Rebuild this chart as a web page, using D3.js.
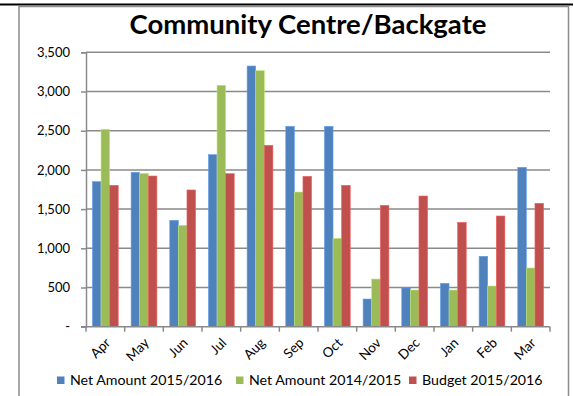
<!DOCTYPE html>
<html>
<head>
<meta charset="utf-8">
<script src="https://cdn.jsdelivr.net/npm/d3@7"></script>
<style>
  body { margin: 0; background: #fff; }
  text { font-family: Lato, "Open Sans", sans-serif; fill: #000; }
</style>
</head>
<body>
<div id="chart"></div>
<script>
// months of the financial year
var months = ["Apr", "May", "Jun", "Jul", "Aug", "Sep", "Oct", "Nov", "Dec", "Jan", "Feb", "Mar"];

// values
var net1516 = [1850, 1969, 1357, 2194, 3325, 2556, 2556, 353, 494, 553, 898, 2033];
var net1415 = [2518, 1956, 1293, 3079, 3265, 1718, 1127, 608, 468, 468, 519, 749];
var budget1516 = [1803, 1922, 1744, 1952, 2314, 1918, 1803, 1548, 1667, 1331, 1412, 1574];

var seriesNames = ["Net Amount 2015/2016", "Net Amount 2014/2015", "Budget 2015/2016"];
var colors = ["#4F81BD", "#9BBB59", "#C0504D"];
var yTicks = [0, 500, 1000, 1500, 2000, 2500, 3000, 3500];

var w = 574, h = 396;
var plot = { left: 86, right: 550, top: 52.3, bottom: 326.7 };

var svg = d3.select("#chart").append("svg")
    .attr("width", w)
    .attr("height", h);

// black rule on top and the grey chart frame
svg.append("line")
    .attr("x1", 0).attr("x2", 573)
    .attr("y1", 4.5).attr("y2", 4.5)
    .attr("stroke", "#000").attr("stroke-width", 2);

svg.append("rect")
    .attr("x", 19).attr("y", 6.5)
    .attr("width", 549.5).attr("height", 400)
    .attr("fill", "none")
    .attr("stroke", "#8c8c8c").attr("stroke-width", 1.5);

svg.append("text")
    .attr("x", 308).attr("y", 34)
    .attr("text-anchor", "middle")
    .style("font-size", "27.5px")
    .style("font-weight", "bold")
    .text("Community Centre/Backgate");

var x0 = d3.scaleBand()
    .domain(months)
    .range([plot.left, plot.right])
    .paddingInner(1.5 / 4.5)
    .paddingOuter(0.75 / 4.5);

var x1 = d3.scaleBand()
    .domain([0, 1, 2])
    .range([0, x0.bandwidth()]);

var y = d3.scaleLinear()
    .domain([0, 3500])
    .range([plot.bottom, plot.top]);

// gridlines
svg.append("g")
    .selectAll("line")
    .data(yTicks.filter(function(d) { return d > 0; }))
    .enter().append("line")
    .attr("x1", plot.left).attr("x2", plot.right)
    .attr("y1", function(d) { return y(d); })
    .attr("y2", function(d) { return y(d); })
    .attr("stroke", "#8a8a8a")
    .attr("stroke-width", 1.5);

// bars
var table = months.map(function(m, i) {
    return { month: m, values: [net1516[i], net1415[i], budget1516[i]] };
});

var group = svg.append("g")
    .selectAll("g")
    .data(table)
    .enter().append("g")
    .attr("transform", function(d) { return "translate(" + x0(d.month) + ",0)"; });

group.selectAll("rect")
    .data(function(d) { return d.values; })
    .enter().append("rect")
    .attr("x", function(d, i) { return x1(i); })
    .attr("width", x1.bandwidth())
    .attr("y", function(d) { return y(d); })
    .attr("height", function(d) { return y(0) - y(d); })
    .attr("fill", function(d, i) { return colors[i]; })
    .attr("stroke", function(d, i) { return d3.color(colors[i]).brighter(0.6); })
    .attr("stroke-width", 0.6);

// y axis
var yAxis = d3.axisLeft(y)
    .tickValues(yTicks)
    .tickSize(5)
    .tickPadding(11)
    .tickFormat(function(d) { return d === 0 ? "-" : d3.format(",")(d); });

var gy = svg.append("g")
    .attr("transform", "translate(" + plot.left + ",0)")
    .call(yAxis);
gy.select(".domain").attr("stroke", "#8a8a8a").attr("stroke-width", 1.5);
gy.selectAll(".tick line").attr("stroke", "#8a8a8a").attr("stroke-width", 1.5);
gy.selectAll(".tick text")
    .style("font-family", "Lato, sans-serif")
    .style("font-size", "13px");

// x axis line and ticks between the months
svg.append("line")
    .attr("x1", plot.left - 5).attr("x2", plot.right)
    .attr("y1", plot.bottom).attr("y2", plot.bottom)
    .attr("stroke", "#8a8a8a").attr("stroke-width", 1.5);

var bounds = months.map(function(m) { return x0(m) - x0.step() * x0.paddingInner() / 2; });
bounds.push(plot.right);
svg.append("g")
    .selectAll("line")
    .data(bounds)
    .enter().append("line")
    .attr("x1", function(d) { return d; })
    .attr("x2", function(d) { return d; })
    .attr("y1", plot.bottom)
    .attr("y2", plot.bottom + 5)
    .attr("stroke", "#8a8a8a").attr("stroke-width", 1.5);

svg.append("g")
    .selectAll("text")
    .data(months)
    .enter().append("text")
    .attr("text-anchor", "end")
    .style("font-size", "13.5px")
    .attr("transform", function(d) {
        var cx = x0(d) + x0.bandwidth() / 2 + 6;
        return "translate(" + cx + "," + (plot.bottom + 17) + ") rotate(-45)";
    })
    .text(function(d) { return d; });

// legend
var legendX = [57, 236, 409];
var legend = svg.append("g")
    .selectAll("g")
    .data(seriesNames)
    .enter().append("g")
    .attr("transform", function(d, i) { return "translate(" + legendX[i] + ",376.5)"; });

legend.append("rect")
    .attr("width", 7.5).attr("height", 7.5)
    .attr("fill", function(d, i) { return colors[i]; });

legend.append("text")
    .attr("x", 13)
    .attr("y", 8.5)
    .style("font-size", "14.2px")
    .text(function(d) { return d; });
</script>
</body>
</html>
